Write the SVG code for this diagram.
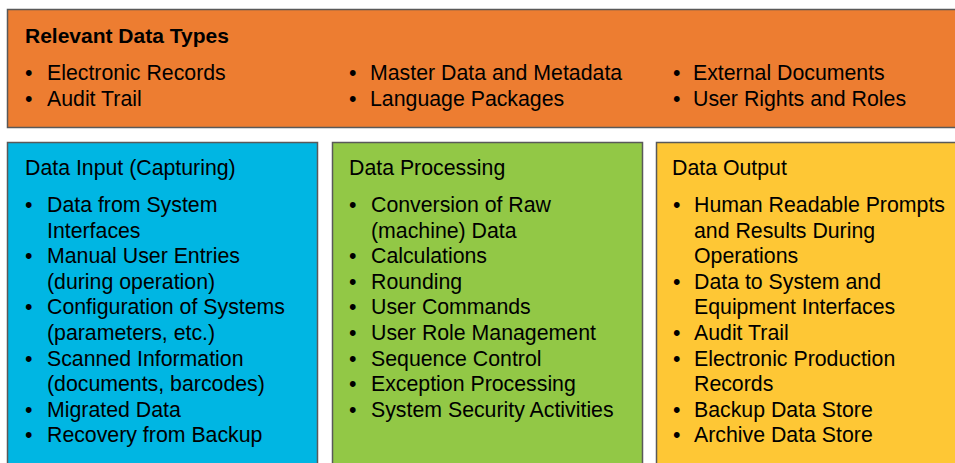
<svg xmlns="http://www.w3.org/2000/svg" width="955" height="463" viewBox="0 0 955 463">
<style>
.box{stroke:#595959;stroke-width:1.5}
text{font-family:"Liberation Sans",Arial,sans-serif;font-size:21.3px;fill:#000}
.b{font-weight:bold;font-size:21px}
</style>
<rect width="955" height="463" fill="#fff"/>
<g id="relevant-data-types">
<rect class="box" x="7.5" y="9.5" width="960" height="118" fill="#ED7D31"/>
<text class="b" x="25" y="43">Relevant Data Types</text>
<text x="25" y="80">•</text><text x="47" y="80">Electronic Records</text>
<text x="25" y="106">•</text><text x="47" y="106">Audit Trail</text>
<text x="349" y="80">•</text><text x="370" y="80">Master Data and Metadata</text>
<text x="349" y="106">•</text><text x="370" y="106">Language Packages</text>
<text x="673" y="80">•</text><text x="693" y="80">External Documents</text>
<text x="673" y="106">•</text><text x="693" y="106">User Rights and Roles</text>
</g>
<g id="data-input">
<rect class="box" x="7.5" y="142.5" width="310" height="330" fill="#00B6E3"/>
<text x="25" y="175">Data Input (Capturing)</text>
<text x="25" y="212">•</text><text x="47" y="212">Data from System</text>
<text x="47" y="237.6">Interfaces</text>
<text x="25" y="263.2">•</text><text x="47" y="263.2">Manual User Entries</text>
<text x="47" y="288.8">(during operation)</text>
<text x="25" y="314.4">•</text><text x="47" y="314.4">Configuration of Systems</text>
<text x="47" y="340">(parameters, etc.)</text>
<text x="25" y="365.6">•</text><text x="47" y="365.6">Scanned Information</text>
<text x="47" y="391.2">(documents, barcodes)</text>
<text x="25" y="416.8">•</text><text x="47" y="416.8">Migrated Data</text>
<text x="25" y="442.4">•</text><text x="47" y="442.4">Recovery from Backup</text>
</g>
<g id="data-processing">
<rect class="box" x="332.5" y="142.5" width="310" height="330" fill="#92C846"/>
<text x="349" y="175">Data Processing</text>
<text x="349" y="212">•</text><text x="371" y="212">Conversion of Raw</text>
<text x="371" y="237.6">(machine) Data</text>
<text x="349" y="263.2">•</text><text x="371" y="263.2">Calculations</text>
<text x="349" y="288.8">•</text><text x="371" y="288.8">Rounding</text>
<text x="349" y="314.4">•</text><text x="371" y="314.4">User Commands</text>
<text x="349" y="340">•</text><text x="371" y="340">User Role Management</text>
<text x="349" y="365.6">•</text><text x="371" y="365.6">Sequence Control</text>
<text x="349" y="391.2">•</text><text x="371" y="391.2">Exception Processing</text>
<text x="349" y="416.8">•</text><text x="371" y="416.8">System Security Activities</text>
</g>
<g id="data-output">
<rect class="box" x="656.5" y="142.5" width="310" height="330" fill="#FEC735"/>
<text x="672" y="175">Data Output</text>
<text x="673" y="212">•</text><text x="694" y="212">Human Readable Prompts</text>
<text x="694" y="237.6">and Results During</text>
<text x="694" y="263.2">Operations</text>
<text x="673" y="288.8">•</text><text x="694" y="288.8">Data to System and</text>
<text x="694" y="314.4">Equipment Interfaces</text>
<text x="673" y="340">•</text><text x="694" y="340">Audit Trail</text>
<text x="673" y="365.6">•</text><text x="694" y="365.6">Electronic Production</text>
<text x="694" y="391.2">Records</text>
<text x="673" y="416.8">•</text><text x="694" y="416.8">Backup Data Store</text>
<text x="673" y="442.4">•</text><text x="694" y="442.4">Archive Data Store</text>
</g>
<g id="connectors"/>
</svg>
